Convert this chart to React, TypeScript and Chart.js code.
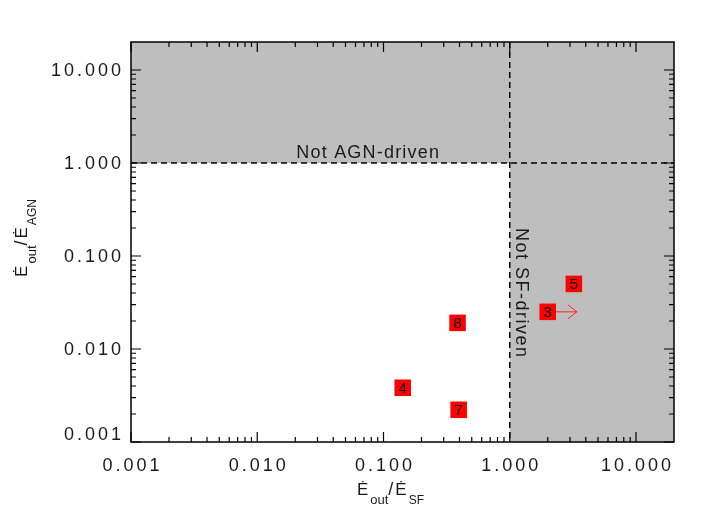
import React, { useEffect, useRef } from "react";
import { Chart, registerables } from "chart.js";

Chart.register(...registerables);

// ---- data ----
const pointLabels = ["3", "4", "5", "7", "8"];
const xValues = [2.0, 0.142, 3.22, 0.394, 0.386];
const yValues = [0.0251, 0.00383, 0.0501, 0.00222, 0.0191];
// lower-limit arrow (object 3)
const arrowStart = [2.0, 0.0251];
const arrowEndX = 3.4;

const tickValues = [0.001, 0.01, 0.1, 1, 10];
const tickLabels = ["0.001", "0.010", "0.100", "1.000", "10.000"];
const axisMin = 0.001;
const axisMax = 20;
const threshold = 1;

const agnText = "Not AGN-driven";
const agnTextAt = [0.0204, 1];
const sfText = "Not SF-driven";
const sfTextAt = [1, 0.2];

const FONT = '"Liberation Sans", Arial, Helvetica, sans-serif';
const GREY = "#bebebe";

function spaced(ctx: CanvasRenderingContext2D, text: string, x: number, y: number, ls: number, align: string) {
  ctx.save();
  (ctx as any).letterSpacing = ls + "px";
  ctx.textAlign = "left";
  const w = ctx.measureText(text).width - ls;
  let sx = x;
  if (align === "center") sx = x - w / 2;
  else if (align === "right") sx = x - w;
  ctx.fillText(text, sx, y);
  ctx.restore();
}

type Part = { t: string; size: number; dy: number; gap: number };

function rich(ctx: CanvasRenderingContext2D, parts: Part[]) {
  let total = 0;
  const widths: number[] = [];
  parts.forEach((p) => {
    ctx.font = `${p.size}px ${FONT}`;
    const w = ctx.measureText(p.t).width;
    widths.push(w);
    total += w + p.gap;
  });
  let x = -total / 2;
  ctx.textAlign = "left";
  ctx.textBaseline = "alphabetic";
  parts.forEach((p, i) => {
    ctx.font = `${p.size}px ${FONT}`;
    ctx.fillText(p.t, x, p.dy);
    x += widths[i] + p.gap;
  });
}

const decorPlugin = {
  id: "decor",
  beforeDatasetsDraw(chart: any) {
    const { ctx, chartArea: a, scales } = chart;
    const xs = scales.x, ys = scales.y;
    const xt = xs.getPixelForValue(threshold);
    const yt = ys.getPixelForValue(threshold);
    ctx.save();
    ctx.fillStyle = GREY;
    ctx.fillRect(a.left, a.top, a.right - a.left, yt - a.top);
    ctx.fillRect(xt, a.top, a.right - xt, a.bottom - a.top);
    // dashed lines
    ctx.strokeStyle = "#000";
    ctx.lineWidth = 1.5;
    ctx.setLineDash([6, 4]);
    ctx.beginPath();
    ctx.moveTo(a.left, yt);
    ctx.lineTo(a.right, yt);
    ctx.moveTo(xt, a.top);
    ctx.lineTo(xt, a.bottom);
    ctx.stroke();
    ctx.setLineDash([]);
    // arrow
    const ax0 = xs.getPixelForValue(arrowStart[0]);
    const ay = ys.getPixelForValue(arrowStart[1]);
    const ax1 = xs.getPixelForValue(arrowEndX);
    ctx.strokeStyle = "#ff2020";
    ctx.lineWidth = 1;
    ctx.beginPath();
    ctx.moveTo(ax0, ay);
    ctx.lineTo(ax1, ay);
    ctx.moveTo(ax1 - 9, ay - 7);
    ctx.lineTo(ax1, ay);
    ctx.lineTo(ax1 - 9, ay + 7);
    ctx.stroke();
    // annotations
    ctx.fillStyle = "#1a1a1a";
    ctx.font = `18px ${FONT}`;
    ctx.textBaseline = "alphabetic";
    spaced(ctx, agnText, xs.getPixelForValue(agnTextAt[0]), ys.getPixelForValue(agnTextAt[1]) - 5, 1.2, "left");
    ctx.save();
    ctx.translate(xs.getPixelForValue(sfTextAt[0]) + 6, ys.getPixelForValue(sfTextAt[1]));
    ctx.rotate(Math.PI / 2);
    spaced(ctx, sfText, 0, 0, 1.5, "left");
    ctx.restore();
    ctx.restore();
  },
  afterDatasetsDraw(chart: any) {
    const { ctx, chartArea: a, scales } = chart;
    const xs = scales.x, ys = scales.y;
    ctx.save();
    // point labels
    ctx.fillStyle = "#000";
    ctx.font = `15px ${FONT}`;
    ctx.textAlign = "center";
    ctx.textBaseline = "middle";
    pointLabels.forEach((l, i) => {
      ctx.fillText(l, xs.getPixelForValue(xValues[i]), ys.getPixelForValue(yValues[i]) + 1);
    });
    // border
    ctx.strokeStyle = "#000";
    ctx.lineWidth = 1.5;
    ctx.strokeRect(a.left, a.top, a.right - a.left, a.bottom - a.top);
    // ticks
    ctx.lineWidth = 1.2;
    ctx.beginPath();
    for (let k = -3; k <= 1; k++) {
      for (let m = 1; m <= 9; m++) {
        const v = m * Math.pow(10, k);
        if (v < axisMin || v >= axisMax) continue;
        const len = m === 1 ? 10 : 5;
        const px = xs.getPixelForValue(v);
        ctx.moveTo(px, a.bottom);
        ctx.lineTo(px, a.bottom - len);
        ctx.moveTo(px, a.top);
        ctx.lineTo(px, a.top + len);
        const py = ys.getPixelForValue(v);
        ctx.moveTo(a.left, py);
        ctx.lineTo(a.left + len, py);
        ctx.moveTo(a.right, py);
        ctx.lineTo(a.right - len, py);
      }
    }
    ctx.stroke();
    // tick labels
    ctx.fillStyle = "#1a1a1a";
    ctx.font = `18px ${FONT}`;
    ctx.textBaseline = "middle";
    tickValues.forEach((v, i) => {
      const px = xs.getPixelForValue(v);
      spaced(ctx, tickLabels[i], px, a.bottom + 24, 3, "center");
      let py = ys.getPixelForValue(v) + 1;
      if (py + 7 > a.bottom) py = a.bottom - 6.5;
      spaced(ctx, tickLabels[i], a.left - 10, py, 3, "right");
    });
    // axis titles
    ctx.fillStyle = "#1a1a1a";
    ctx.save();
    ctx.translate((a.left + a.right) / 2 - 12, a.bottom + 53);
    rich(ctx, [
      { t: "Ė", size: 17, dy: 0, gap: 2 },
      { t: "out", size: 13, dy: 9, gap: 0 },
      { t: "/", size: 18, dy: 0, gap: 2 },
      { t: "Ė", size: 17, dy: 0, gap: 2 },
      { t: "SF", size: 12, dy: 9, gap: 0 },
    ]);
    ctx.restore();
    ctx.save();
    ctx.translate(a.left - 104, (a.top + a.bottom) / 2 - 4);
    ctx.rotate(-Math.PI / 2);
    rich(ctx, [
      { t: "Ė", size: 17, dy: 0, gap: 2 },
      { t: "out", size: 13, dy: 9, gap: 0 },
      { t: "/", size: 18, dy: 0, gap: 2 },
      { t: "Ė", size: 17, dy: 0, gap: 2 },
      { t: "AGN", size: 12, dy: 9, gap: 0 },
    ]);
    ctx.restore();
    ctx.restore();
  },
};

export default function App() {
  const ref = useRef<HTMLCanvasElement | null>(null);
  useEffect(() => {
    if (!ref.current) return;
    const pts = xValues.map((x, i) => ({ x, y: yValues[i] }));
    const chart = new Chart(ref.current, {
      type: "scatter",
      data: {
        datasets: [
          {
            data: pts,
            pointStyle: "rect",
            pointRadius: 11.7,
            pointHoverRadius: 11.7,
            backgroundColor: "#ff0000",
            borderColor: "#ff0000",
            borderWidth: 0,
          },
        ],
      },
      options: {
        responsive: false,
        animation: false,
        events: [],
        layout: { padding: { left: 131, right: 40, top: 42, bottom: 84 } },
        scales: {
          x: { type: "logarithmic", min: axisMin, max: axisMax, display: false },
          y: { type: "logarithmic", min: axisMin, max: axisMax, display: false },
        },
        plugins: { legend: { display: false }, tooltip: { enabled: false } },
      },
      plugins: [decorPlugin],
    } as any);
    return () => chart.destroy();
  }, []);
  return (
    <div style={{ position: "fixed", left: 0, top: 0, width: 714, height: 526, background: "#fff" }}>
      <canvas ref={ref} width={714} height={526} style={{ width: 714, height: 526, display: "block" }} />
    </div>
  );
}
